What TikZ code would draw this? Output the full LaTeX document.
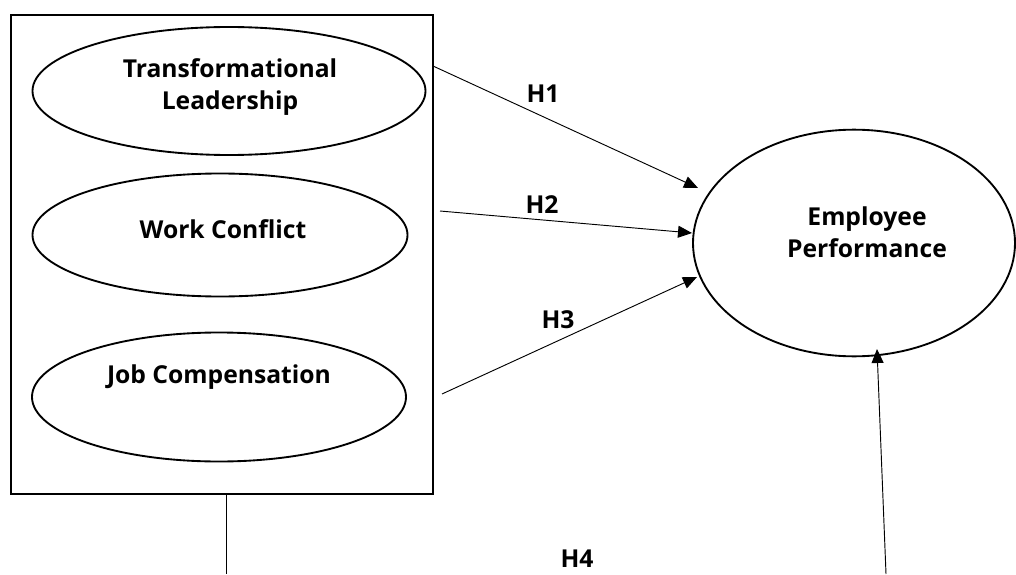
\documentclass[tikz,border=0pt]{standalone}
\usepackage{fontspec}
\setmainfont{Open Sans}
\usepackage{tikz}
\usetikzlibrary{arrows.meta,shapes.geometric}

\begin{document}
\begin{tikzpicture}[x=0.75pt,y=-0.75pt,>={Triangle[length=10.5pt,width=9pt]},
  font=\fontsize{18.5}{24}\selectfont\bfseries,
  latent/.style={draw,ellipse,line width=1.4pt,inner sep=0pt},
  lbl/.style={anchor=base,inner sep=0pt,align=center},
  path/.style={->,line width=0.7pt}]
\useasboundingbox (0,0) rectangle (1016,574);
% independent variables in one box
\draw[line width=0.9pt] (11,15) rectangle (433,494);
\foreach \n/\x/\y/\w/\h in {tl/229/91/393/128,wc/220/235/375/123,jc/219/397/374/129}{
  \node[latent,minimum width=\w*0.75pt,minimum height=\h*0.75pt] (\n) at (\x,\y) {};
}
\node[lbl] (tltext) at (230,110) {Transformational\\Leadership};
\node[lbl] (wctext) at (223,238) {Work Conflict};
\node[lbl] (jctext) at (219,383) {Job Compensation};
% dependent variable
\node[latent,minimum width=241.5pt,minimum height=170pt] (ep) at (854,243) {};
\node[lbl] (eptext) at (867,257) {Employee\\Performance};
% hypotheses
\coordinate (s1) at (433,66);
\coordinate (t1) at (698,188);
\coordinate (s2) at (440,211);
\coordinate (t2) at (692,233);
\coordinate (s3) at (442,394);
\coordinate (t3) at (697,277);
\draw[path] (s1) -- (t1);
\draw[path] (s2) -- (t2);
\draw[path] (s3) -- (t3);
\node[lbl] (h1) at (543,103) {H1};
\node[lbl] (h2) at (542,213) {H2};
\node[lbl] (h3) at (558,328) {H3};
% joint effect
\coordinate (b1) at (226,494);
\coordinate (b2) at (226,574);
\coordinate (b3) at (886,574);
\coordinate (t4) at (877,349);
\draw[line width=0.7pt] (b1) -- (b2);
\draw[path] (b3) -- (t4);
\node[lbl] (h4) at (577,567) {H4};
\end{tikzpicture}
\end{document}
